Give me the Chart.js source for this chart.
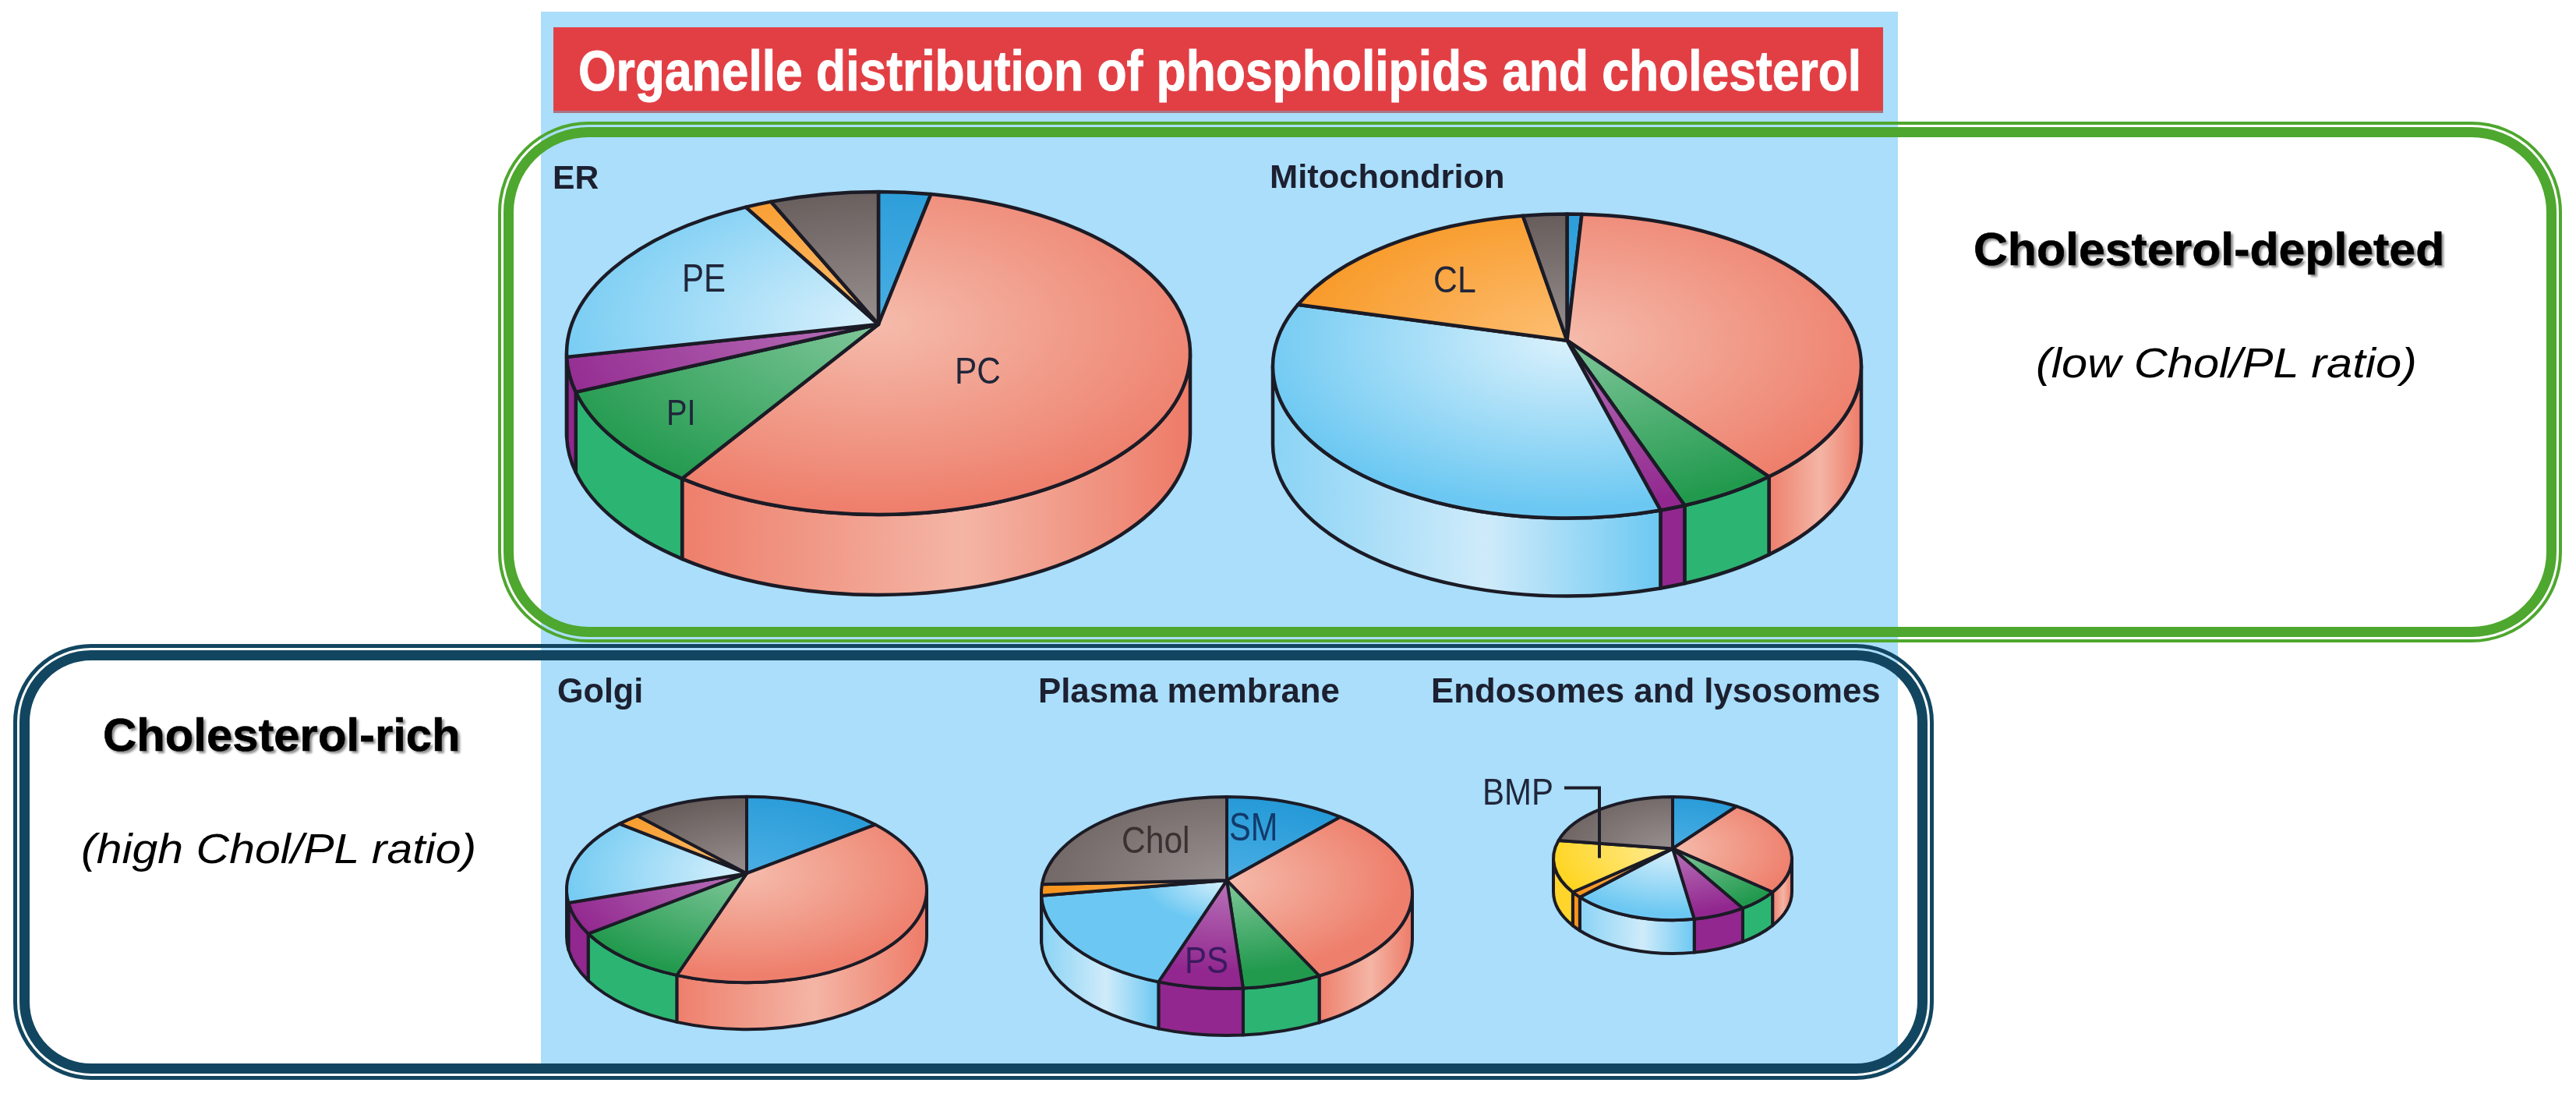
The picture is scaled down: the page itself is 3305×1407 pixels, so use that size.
<!DOCTYPE html>
<html>
<head>
<meta charset="utf-8">
<title>Organelle distribution of phospholipids and cholesterol</title>
<script src="https://cdn.jsdelivr.net/npm/chart.js@4/dist/chart.umd.min.js"></script>
<style>
    html, body { margin: 0; padding: 0; background: #fff; }
    #page { position: relative; width: 3305px; height: 1407px; overflow: hidden; background: #fff; }
    #page > * { position: absolute; }
    .box, .box div { box-sizing: border-box; }
    .box div { position: absolute; }
    canvas { display: block; }
    .texto { white-space: nowrap; line-height: 1; transform-origin: left top; font-family: "Liberation Sans", sans-serif; z-index: 3; }
</style>
</head>
<body>
<div id="page">
    <div style="left:694px;top:15px;width:1741px;height:1355px;background:#AADEFA"></div>
    <div style="left:710px;top:35px;width:1706px;height:110px;background:#E23F45;border-bottom:3px solid #A87584;box-sizing:border-box"></div>

    <div class="box" style="left:639px;top:156px;width:2648px;height:668px">
        <div style="inset:0;border:4.5px solid #4EA72E;border-radius:116px"></div>
        <div style="inset:7px;border:13px solid #4EA72E;border-radius:109px"></div>
    </div>
    <div class="box" style="left:17px;top:826px;width:2464px;height:559px">
        <div style="inset:0;border:5px solid #124660;border-radius:100px"></div>
        <div style="inset:8px;border:13px solid #124660;border-radius:92px"></div>
    </div>

    <svg style="left:0;top:0;z-index:2" width="3305" height="1407">
        <path d="M2007 1010.5H2052V1100.5" fill="none" stroke="#1d1d28" stroke-width="4"/>
    </svg>
</div>

<script>
// categorias e valores (% do contorno de cada pizza)
const categorias = ["SM", "PC", "PI", "PS", "PE", "CL", "Chol"];
const categoriasEndo = ["SM", "PC", "PI", "PS", "PE", "CL", "BMP", "Chol"];

const valoresER = [2.7, 58.2, 10.3, 3.5, 18.4, 1.4, 5.6];
const valoresMito = [0.8, 37.2, 5.5, 1.4, 36.8, 16.0, 2.4];
const valoresGolgi = [12.7, 43.7, 10.8, 5.6, 14.8, 2.1, 10.4];
const valoresPlasma = [10.5, 31.2, 6.9, 7.4, 18.5, 1.9, 23.6];
const valoresEndo = [9.0, 25.2, 5.8, 7.1, 17.1, 1.6, 13.9, 20.3];

// cor perto do centro, cor na borda
const coresTopo = {
    SM: ["#4AAEE4", "#2298D6"],
    PC: ["#F5BBAB", "#EE7F6C"],
    PI: ["#80C79A", "#229A4E"],
    PS: ["#B873B9", "#92278F"],
    PE: ["#DAF1FC", "#6CC8F2"],
    CL: ["#FDBE72", "#F7941D"],
    BMP: ["#FFEC99", "#FFD520"],
    Chol: ["#98908F", "#574C4A"]
};

const coresLateral = {
    SM: ["#2298D6"],
    PC: ["#EE7F6C", "#F4B5A5", "#EE7B68"],
    PI: ["#2CB572"],
    PS: ["#92278F"],
    PE: ["#8AD3F5", "#CFEBFA", "#6CC8F2"],
    CL: ["#F7941D"],
    BMP: ["#FFD52B"],
    Chol: ["#574C4A"]
};

const corLinha = "#1b1b26";

// desenha a pizza "3D" a partir dos angulos que o Chart.js calculou
const pizza3d = {
    id: "pizza3d",
    beforeDatasetDraw(chart, args, opts) {
        const ctx = chart.ctx;
        const arcos = chart.getDatasetMeta(args.index).data;
        const nomes = chart.data.labels;
        const cx = arcos[0].x;
        const cy = arcos[0].y;
        const rx = arcos[0].outerRadius;
        const ry = rx * opts.achatamento;
        const altura = rx * opts.altura;
        const apiceY = cy - rx * opts.apice;

        ctx.save();
        ctx.lineWidth = opts.linha;
        ctx.strokeStyle = corLinha;
        ctx.lineJoin = "round";

        // lateral
        arcos.forEach((arco, i) => {
            const ini = Math.max(arco.startAngle, 0);
            const fim = Math.min(arco.endAngle, Math.PI);
            if (fim <= ini) return;

            const x1 = cx + rx * Math.cos(ini);
            const x2 = cx + rx * Math.cos(fim);
            const paradas = coresLateral[nomes[i]];
            const grad = ctx.createLinearGradient(x2, 0, x1, 0);
            paradas.forEach((c, k) => {
                grad.addColorStop(paradas.length == 1 ? 0 : [0, 0.55, 1][k], c);
            });

            ctx.beginPath();
            ctx.ellipse(cx, cy, rx, ry, 0, ini, fim);
            ctx.lineTo(x2, cy + ry * Math.sin(fim) + altura);
            ctx.ellipse(cx, cy + altura, rx, ry, 0, fim, ini, true);
            ctx.closePath();
            ctx.fillStyle = grad;
            ctx.fill();
            ctx.stroke();
        });

        // topo
        arcos.forEach((arco, i) => {
            const cores = coresTopo[nomes[i]];
            ctx.beginPath();
            ctx.moveTo(cx, apiceY);
            ctx.ellipse(cx, cy, rx, ry, 0, arco.startAngle, arco.endAngle);
            ctx.closePath();

            ctx.save();
            ctx.translate(cx, apiceY);
            ctx.scale(1, opts.achatamento);
            const extra = opts.raios && opts.raios[nomes[i]];
            const raio = rx * (extra || opts.brilho);
            const grad = ctx.createRadialGradient(0, 0, 0, 0, 0, raio);
            grad.addColorStop(0, cores[0]);
            grad.addColorStop(1, cores[1]);
            ctx.fillStyle = grad;
            ctx.fill();
            ctx.restore();

            ctx.stroke();
        });

        ctx.restore();
        return false;
    }
};

function criarPizza(rotulos, valores, cx, cy, rx, opts) {
    const lado = Math.ceil(rx * 2 + 40);
    const canvas = document.createElement("canvas");
    canvas.width = lado;
    canvas.height = lado;
    canvas.style.left = (cx - lado / 2) + "px";
    canvas.style.top = (cy - lado / 2) + "px";
    document.getElementById("page").appendChild(canvas);

    new Chart(canvas, {
        type: "pie",
        data: {
            labels: rotulos,
            datasets: [{ data: valores, borderWidth: 0 }]
        },
        options: {
            responsive: false,
            animation: false,
            radius: rx,
            plugins: {
                legend: { display: false },
                tooltip: { enabled: false },
                pizza3d: opts
            }
        },
        plugins: [pizza3d]
    });
}

// texto com largura e altura de maiuscula
function escrever(texto, x, topo, base, largura, estilo) {
    const el = document.createElement("div");
    const tam = (base - topo) / 0.716;
    el.className = "texto";
    el.textContent = texto;
    el.style.fontSize = tam + "px";
    el.style.left = x + "px";
    el.style.top = (base - tam * 0.8465) + "px";
    Object.assign(el.style, estilo);
    document.getElementById("page").appendChild(el);
    el.style.transform = "scaleX(" + (largura / el.offsetWidth) + ")";
}

criarPizza(categorias, valoresER, 1127, 453, 400, { achatamento: 0.5175, altura: 0.2575, apice: 0.0925, brilho: 1.15, linha: 4.5 });
criarPizza(categorias, valoresMito, 2010, 469, 377.5, { achatamento: 0.5166, altura: 0.265, apice: 0.087, brilho: 1.1, linha: 4.5 });
criarPizza(categorias, valoresGolgi, 958, 1140.7, 231, { achatamento: 0.516, altura: 0.26, apice: 0.09, brilho: 1.1, linha: 4 });
criarPizza(categorias, valoresPlasma, 1573.7, 1144.8, 238, { achatamento: 0.517, altura: 0.252, apice: 0.067, brilho: 0.95, raios: { PE: 0.45, Chol: 1.7 }, linha: 4 });
criarPizza(categoriasEndo, valoresEndo, 2146, 1100.8, 153, { achatamento: 0.517, altura: 0.28, apice: 0.082, brilho: 1.05, raios: { Chol: 1.5 }, linha: 4 });

const negrito = { fontWeight: "bold", color: "#1c2030" };
const rotulo = { color: "#20263a" };
const lado = { fontWeight: "bold", color: "#000", textShadow: "3px 3px 3px rgba(0,0,0,.45)", WebkitTextStroke: "0.6px #000" };
const italico = { fontStyle: "italic", color: "#000" };

escrever("Organelle distribution of phospholipids and cholesterol", 742, 64, 116, 1646, { fontWeight: "bold", color: "#fff", WebkitTextStroke: "1px #fff" });

escrever("ER", 709, 212, 242, 59, negrito);
escrever("Mitochondrion", 1629, 211, 242, 302, negrito);
escrever("Golgi", 715, 870, 902, 110, negrito);
escrever("Plasma membrane", 1332, 870, 902, 387, negrito);
escrever("Endosomes and lysosomes", 1836, 870, 902, 577, negrito);

escrever("PE", 875, 339, 375, 56, rotulo);
escrever("PC", 1225, 457, 492, 59, rotulo);
escrever("PI", 855, 512, 545, 38, rotulo);
escrever("CL", 1839, 341, 375, 55, rotulo);
escrever("Chol", 1439, 1059, 1094, 88, { color: "#3a3232" });
escrever("SM", 1577, 1043, 1079, 62, { color: "#123a6a" });
escrever("PS", 1520, 1213, 1248, 56, { color: "#3b1a5f" });
escrever("BMP", 1902, 997, 1032, 91, rotulo);

escrever("Cholesterol-depleted", 2532, 299, 341, 604, lado);
escrever("(low Chol/PL ratio)", 2612, 446, 485, 489, italico);
escrever("Cholesterol-rich", 132, 922, 964, 459, lado);
escrever("(high Chol/PL ratio)", 104, 1069, 1108, 507, italico);
</script>
</body>
</html>
